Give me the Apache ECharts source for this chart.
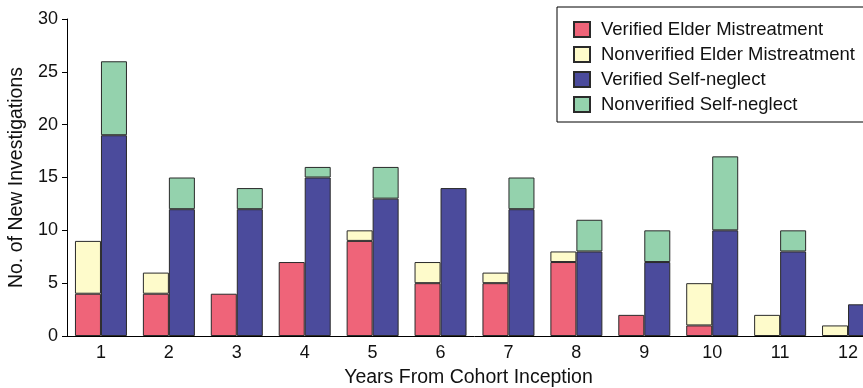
<!DOCTYPE html>
<html>
<head>
<meta charset="utf-8">
<script src="https://cdn.jsdelivr.net/npm/echarts@6/dist/echarts.min.js"></script>
<style>
html,body{margin:0;padding:0;overflow:hidden;background:#fff;}
#c{width:900px;height:388px;}
</style>
</head>
<body>
<div id="c"></div>
<script>
var categories = ['1','2','3','4','5','6','7','8','9','10','11','12'];
var verifiedElder = [4,4,4,7,9,5,5,7,2,1,0,0];
var nonverifiedElder = [5,2,0,0,1,2,1,1,0,4,2,1];
var verifiedSelf = [19,12,12,15,13,14,12,8,7,10,8,3];
var nonverifiedSelf = [7,3,2,1,3,0,3,3,3,7,2,0];
var seriesNames = ['Verified Elder Mistreatment','Nonverified Elder Mistreatment','Verified Self-neglect','Nonverified Self-neglect'];
var yTicks = [0,5,10,15,20,25,30];

var font = 'Liberation Sans, Arial, Helvetica, sans-serif';
function clean(a){return a.map(function(v){return v===0?'-':v;});}
function mk(name, data, stack, color){
  return {
    name: name, type: 'bar', stack: stack, data: clean(data),
    barWidth: 26, barGap: '0%',
    itemStyle: {color: color, borderColor: '#2a2a2a', borderWidth: 1},
    emphasis: {disabled: true}
  };
}
var chart = echarts.init(document.getElementById('c'), null, {renderer:'canvas'});
chart.setOption({
  animation: false,
  textStyle: {fontFamily: font},
  grid: {left: 67, right: 18, top: 19, bottom: 52, outerBoundsMode: 'none', containLabel: false},
  legend: {
    orient: 'vertical', left: 557, top: 7,
    padding: [13, 20, 8, 16],
    borderColor: '#000', borderWidth: 1,
    itemWidth: 16, itemHeight: 15, itemGap: 6,
    icon: 'rect',
    textStyle: {fontSize: 18.5, color: '#111', fontFamily: font, lineHeight: 18, padding: [0,0,0,6]},
    data: seriesNames
  },
  xAxis: {
    type: 'category', data: categories,
    name: 'Years From Cohort Inception', nameLocation: 'middle', nameGap: 32,
    nameTextStyle: {fontSize: 19.5, color: '#111', fontFamily: font, padding: [0, 12, 0, 0]},
    axisLine: {lineStyle: {color: '#000', width: 1}},
    axisTick: {show: false},
    axisLabel: {fontSize: 18, color: '#111', margin: 8, fontFamily: font}
  },
  yAxis: {
    type: 'value', min: yTicks[0], max: yTicks[yTicks.length-1], interval: 5,
    name: 'No. of New Investigations', nameLocation: 'middle', nameGap: 34,
    nameTextStyle: {fontSize: 19.5, color: '#111', fontFamily: font},
    axisLine: {show: true, lineStyle: {color: '#000', width: 1}},
    axisTick: {show: true, length: 5, lineStyle: {color: '#000'}},
    axisLabel: {fontSize: 18, color: '#111', margin: 9, fontFamily: font},
    splitLine: {show: false}
  },
  series: [
    mk(seriesNames[0], verifiedElder, 'em', '#EF6479'),
    mk(seriesNames[1], nonverifiedElder, 'em', '#FEFBCB'),
    mk(seriesNames[2], verifiedSelf, 'sn', '#4B4B9C'),
    mk(seriesNames[3], nonverifiedSelf, 'sn', '#94D2AD')
  ]
});
</script>
</body>
</html>
